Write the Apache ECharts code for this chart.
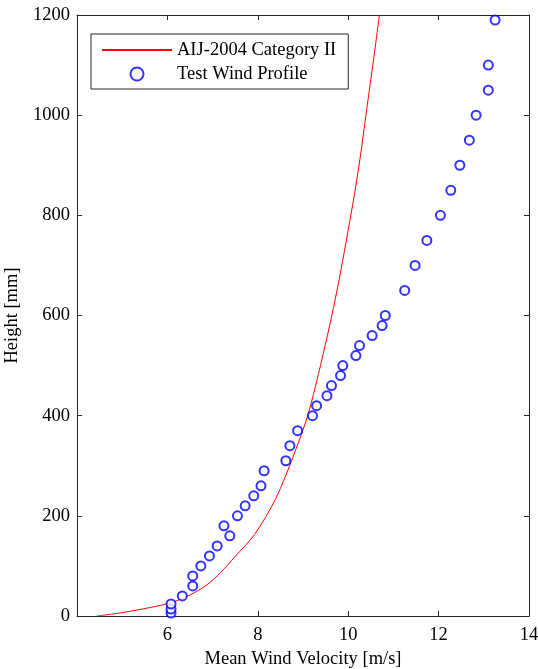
<!DOCTYPE html>
<html>
<head>
<meta charset="utf-8">
<script src="https://cdn.jsdelivr.net/npm/echarts@6/dist/echarts.min.js"></script>
<style>html,body{margin:0;padding:0;background:#fff}#c{width:538px;height:669px}</style>
</head>
<body>
<div id="c"></div>
<script>
// AIJ-2004 Category II curve
const aijVelocity = [4.45, 5.02, 5.62, 6.06, 6.50, 6.87, 7.18, 7.50, 7.93, 8.40, 8.78, 9.12, 9.54, 9.80, 10.10, 10.26, 10.41, 10.56, 10.69];
const aijHeight   = [0, 7, 17, 26, 42, 62, 87, 119, 163, 235, 318, 405, 560, 672, 822, 912, 1012, 1110, 1200];

// Test wind profile points
const testVelocity = [6.08, 6.08, 6.08, 6.33, 6.56, 6.56, 6.74, 6.93, 7.10, 7.38, 7.25, 7.55, 7.72, 7.91, 8.07, 8.14, 8.62, 8.71, 8.88, 9.21, 9.30, 9.53, 9.63, 9.83, 9.88, 10.17, 10.25, 10.53, 10.75, 10.82, 11.25, 11.48, 11.74, 12.04, 12.27, 12.47, 12.68, 12.83, 13.10, 13.10, 13.25];
const testHeight   = [6, 14, 24, 40, 60, 80, 100, 120, 140, 160, 180, 200, 220, 240, 260, 290, 310, 340, 370, 400, 420, 440, 460, 480, 500, 520, 540, 560, 580, 600, 650, 700, 750, 800, 850, 900, 950, 1000, 1050, 1100, 1190];

const xTicks = [4, 14, 2];     // min, max, interval
const yTicks = [0, 1200, 200];

const seriesNames = ['AIJ-2004 Category II', 'Test Wind Profile'];

const font = 'Liberation Serif';
const fs = 18.5;
const axisColor = '#262626';

const chart = echarts.init(document.getElementById('c'), null, {renderer: 'canvas'});
const aijData = aijVelocity.map((v, i) => [v, aijHeight[i]]);
const testData = testVelocity.map((v, i) => [v, testHeight[i]]);

const xBase = {
  type: 'value', min: xTicks[0], max: xTicks[1], interval: xTicks[2],
  axisLine: {show: true, onZero: false, lineStyle: {color: axisColor, width: 1}},
  axisTick: {show: true, inside: true, length: 5, lineStyle: {color: axisColor}},
  splitLine: {show: false}
};
const yBase = {
  type: 'value', min: yTicks[0], max: yTicks[1], interval: yTicks[2],
  axisLine: {show: true, onZero: false, lineStyle: {color: axisColor, width: 1}},
  axisTick: {show: true, inside: true, length: 5, lineStyle: {color: axisColor}},
  splitLine: {show: false}
};

chart.setOption({
  animation: false,
  backgroundColor: '#fff',
  textStyle: {fontFamily: font},
  grid: {left: 77, right: 9, top: 15, bottom: 53, containLabel: false, outerBoundsMode: 'none'},
  legend: {
    orient: 'vertical', left: 91, top: 34,
    padding: [6, 12, 5, 10],
    itemWidth: 70, itemHeight: 13, itemGap: 4,
    borderColor: axisColor, borderWidth: 1, borderRadius: 0, backgroundColor: '#fff',
    textStyle: {fontFamily: font, fontSize: fs, lineHeight: 20, color: '#000'},
    data: [
      {name: seriesNames[0], itemStyle: {opacity: 0}},
      {name: seriesNames[1]}
    ]
  },
  xAxis: [
    Object.assign({}, xBase, {
      position: 'bottom',
      name: 'Mean Wind Velocity [m/s]', nameLocation: 'middle', nameGap: 29,
      nameTextStyle: {fontFamily: font, fontSize: fs, color: '#000'},
      axisLabel: {show: true, showMinLabel: false, margin: 10, fontFamily: font, fontSize: fs, color: '#000'}
    }),
    Object.assign({}, xBase, {position: 'top', axisLabel: {show: false}})
  ],
  yAxis: [
    Object.assign({}, yBase, {
      position: 'left',
      name: 'Height [mm]', nameLocation: 'middle', nameGap: 52,
      nameTextStyle: {fontFamily: font, fontSize: fs, color: '#000'},
      axisLabel: {show: true, margin: 7, fontFamily: font, fontSize: fs, color: '#000',
                  formatter: v => String(v)}
    }),
    Object.assign({}, yBase, {position: 'right', axisLabel: {show: false}})
  ],
  series: [
    {
      name: seriesNames[0], type: 'line', data: aijData,
      xAxisIndex: 0, yAxisIndex: 0,
      smooth: 0.3, showSymbol: false, symbol: 'none',
      lineStyle: {color: '#ff0000', width: 1}, itemStyle: {color: '#ff0000'},
      z: 2
    },
    {
      name: seriesNames[1], type: 'scatter', data: testData,
      xAxisIndex: 0, yAxisIndex: 0,
      symbol: 'emptyCircle', symbolSize: 9,
      itemStyle: {color: '#0000ff', borderColor: '#0000ff', borderWidth: 2},
      z: 3
    }
  ]
});
</script>
</body>
</html>
